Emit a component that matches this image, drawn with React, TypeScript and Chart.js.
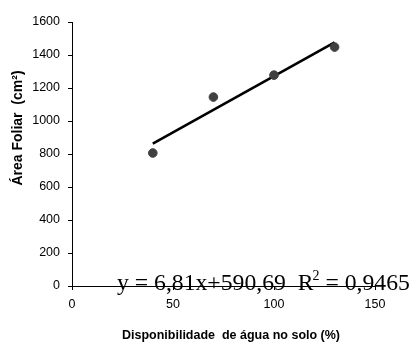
import React, { useEffect, useRef } from "react";
import { Chart, registerables } from "chart.js";

Chart.register(...registerables);

const waterAvailability = [40, 70, 100, 130];
const leafArea = [806, 1145, 1278, 1448];
const trendX = [40, 130];
const trendY = [863, 1476];
const xTicks = [0, 50, 100, 150];
const yTicks = [0, 200, 400, 600, 800, 1000, 1200, 1400, 1600];
const equationMain = "y = 6,81x+590,69  R";
const equationSup = "2";
const equationTail = " = 0,9465";
const xTitle = "Disponibilidade  de água no solo (%)";
const yTitle = "Área Foliar  (cm²)";

const tickFont = { family: "'Liberation Sans', Arial, sans-serif", size: 12.5 };

const textPlugin = {
  id: "texts",
  afterDraw(chart: any) {
    const ctx = chart.ctx;
    const area = chart.chartArea;
    ctx.save();
    ctx.fillStyle = "#000";
    // equation
    ctx.textBaseline = "alphabetic";
    ctx.textAlign = "left";
    ctx.font = "23.7px 'Liberation Serif', 'Times New Roman', serif";
    let x = area.left + 45;
    const base = area.bottom + 4;
    ctx.fillText(equationMain, x, base);
    x += ctx.measureText(equationMain).width - 1;
    ctx.font = "14px 'Liberation Serif', 'Times New Roman', serif";
    ctx.fillText(equationSup, x, base - 10);
    x += ctx.measureText(equationSup).width;
    ctx.font = "23.7px 'Liberation Serif', 'Times New Roman', serif";
    ctx.fillText(equationTail, x, base);
    // x title
    ctx.font = "bold 12.5px 'Liberation Sans', Arial, sans-serif";
    ctx.textAlign = "center";
    ctx.textBaseline = "middle";
    ctx.fillText(xTitle, area.left + 159, area.bottom + 50);
    // y title
    ctx.font = "bold 14px 'Liberation Sans', Arial, sans-serif";
    ctx.translate(18, area.top + 106);
    ctx.rotate(-Math.PI / 2);
    ctx.fillText(yTitle, 0, 0);
    ctx.restore();
  },
};

export default function App() {
  const ref = useRef<HTMLCanvasElement>(null);
  useEffect(() => {
    const chart = new Chart(ref.current as HTMLCanvasElement, {
      type: "scatter",
      data: {
        datasets: [
          {
            data: waterAvailability.map((v, i) => ({ x: v, y: leafArea[i] })),
            backgroundColor: "#404040",
            borderColor: "#404040",
            pointRadius: 4.3,
            pointHoverRadius: 4.3,
            showLine: false,
          },
          {
            data: trendX.map((v, i) => ({ x: v, y: trendY[i] })),
            borderColor: "#000",
            borderWidth: 2.6,
            pointRadius: 0,
            showLine: true,
            fill: false,
          },
        ],
      },
      options: {
        animation: false,
        responsive: true,
        maintainAspectRatio: false,
        layout: { padding: { left: 0, top: 22, right: 41, bottom: 0 } },
        plugins: { legend: { display: false }, tooltip: { enabled: false } },
        scales: {
          x: {
            type: "linear",
            min: 0,
            max: 150,
            afterFit: (s: any) => { s.height = 64; },
            afterBuildTicks: (s: any) => { s.ticks = xTicks.map((v) => ({ value: v })); },
            ticks: { color: "#000", font: tickFont, padding: 7, callback: (v: any) => String(v) },
            grid: { display: true, drawOnChartArea: false, drawTicks: true, tickLength: 4, color: "#000" },
            border: { display: true, color: "#000", width: 1 },
            title: { display: false },
          },
          y: {
            type: "linear",
            min: 0,
            max: 1600,
            afterFit: (s: any) => { s.width = 72; },
            afterBuildTicks: (s: any) => { s.ticks = yTicks.map((v) => ({ value: v })); },
            ticks: { color: "#000", font: tickFont, padding: 8, callback: (v: any) => String(v) },
            grid: { display: true, drawOnChartArea: false, drawTicks: true, tickLength: 4, color: "#000" },
            border: { display: true, color: "#000", width: 1 },
            title: { display: false },
          },
        },
      },
      plugins: [textPlugin],
    } as any);
    return () => chart.destroy();
  }, []);
  return (
    <div style={{ position: "absolute", left: 0, top: 0, width: 416, height: 350, background: "#fff" }}>
      <canvas ref={ref} />
    </div>
  );
}
